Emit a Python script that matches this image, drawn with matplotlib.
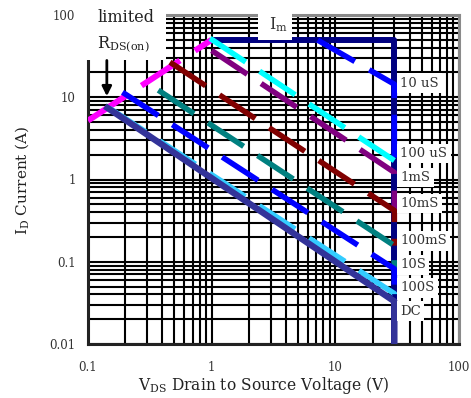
import matplotlib
matplotlib.use("Agg")
import matplotlib.pyplot as plt
from matplotlib.ticker import LogLocator, NullFormatter
from matplotlib.patches import Rectangle

plt.rcParams['font.family'] = ['DejaVu Serif']
plt.rcParams['mathtext.fontset'] = 'dejavuserif'

# ---- data ----
x_ticks = [0.1, 1, 10, 100]
x_tick_labels = ['0.1', '1', '10', '100']
y_ticks = [0.01, 0.1, 1, 10, 100]
y_tick_labels = ['0.01', '0.1', '1', '10', '100']

rds_v = [0.1, 1.0]          # R_DS(on) limit line
rds_i = [5.2, 50.0]
i_max = 50.0                 # Im (pulsed current limit)
v_max = 30.0                 # V_DS limit

durations = ['10 uS', '100 uS', '1mS', '10mS', '100mS', '10S', '100S', 'DC']
v_start = [7.2, 0.97, 1.0, 0.46, 0.37, 0.19, 0.15, 0.137]
i_start = [49.5, 52.0, 37.0, 26.7, 12.2, 11.5, 7.3, 7.8]
i_end = [14.4, 1.7, 1.22, 0.42, 0.157, 0.082, 0.041, 0.033]
label_y = [14.8, 2.07, 1.06, 0.51, 0.18, 0.092, 0.048, 0.025]
colors = ['#0000FF', '#00FFFF', '#800080', '#800000', '#008080',
          '#0000FF', '#33CCFF', '#333399']
y_min = 0.01

# ---- figure ----
fig = plt.figure(figsize=(4.71, 3.98), dpi=100)
W, H = 471, 398
ax = fig.add_axes([88 / W, 1 - 344 / H, 371 / W, 329 / H])
ax.set_xscale('log')
ax.set_yscale('log')
ax.set_xlim(0.1, 100)
ax.set_ylim(0.01, 100)
ax.set_xticks(x_ticks)
ax.set_xticklabels(x_tick_labels)
ax.set_yticks(y_ticks)
ax.set_yticklabels(y_tick_labels)
for a in (ax.xaxis, ax.yaxis):
    a.set_minor_locator(LogLocator(base=10, subs=range(2, 10)))
    a.set_minor_formatter(NullFormatter())
ax.tick_params(which='both', length=0)
ax.tick_params(axis='x', pad=12, labelsize=8.5, labelcolor='#333333')
ax.tick_params(axis='y', pad=9, labelsize=8.5, labelcolor='#333333')
ax.grid(which='both', color='black', lw=1.5)
ax.set_axisbelow(True)
for s in ('top', 'right'):
    ax.spines[s].set_color('#8a8a8a')
    ax.spines[s].set_linewidth(2.2)
for s in ('left', 'bottom'):
    ax.spines[s].set_color('#222222')
    ax.spines[s].set_linewidth(2.2)

dash = (7.7, 3.0)

# Im limit (horizontal) plus V_DS limit (vertical)
ax.plot([rds_v[-1], v_max, v_max], [i_max, i_max, y_min], color='#000080',
        lw=4.3, solid_capstyle='butt', zorder=3)

# R_DS(on) limit
ax.plot(rds_v, rds_i, color='#FF00FF', lw=4.3, dashes=dash,
        dash_capstyle='butt', zorder=4)

# SOA curves
n = len(durations)
for k in range(n):
    if k < n - 1:
        xs = [v_start[k], v_max, v_max]
        ys = [i_start[k], i_end[k], i_end[k + 1]]
        ax.plot(xs, ys, color=colors[k], lw=4.0, dashes=dash,
                dash_capstyle='butt', zorder=4 + k * 0.1)
    else:
        xs = [v_start[k], v_max, v_max]
        ys = [i_start[k], i_end[k], y_min]
        ax.plot(xs, ys, color=colors[k], lw=4.6, solid_capstyle='butt',
                zorder=5)

# duration labels
for lab, ly in zip(durations, label_y):
    ax.text(33.5, ly, lab, ha='left', va='center', fontsize=9.5,
            color='#333333', zorder=7,
            bbox=dict(boxstyle='square,pad=0.25', facecolor='white',
                      edgecolor='none'))

# "limited R_DS(on)" box
ax.add_patch(Rectangle((-0.012, (344 - 60) / 329), (168 - 86) / 371, 0.25,
                       transform=ax.transAxes, facecolor='white',
                       edgecolor='none', clip_on=False, zorder=6))
ax.text((97 - 88) / 371, (344 - 17) / 329, 'limited', transform=ax.transAxes,
        ha='left', va='center', fontsize=11.5, color='#222222', zorder=7)
ax.text((97 - 88) / 371, (344 - 45) / 329, r'R$_\mathrm{DS(on)}$',
        transform=ax.transAxes, ha='left', va='center', fontsize=11.5,
        color='#222222', zorder=7)
ax.annotate('', xy=(0.142, 10.3), xytext=(0.142, 28),
            arrowprops=dict(arrowstyle='-|>', lw=2.0, color='black',
                            mutation_scale=14, shrinkA=0, shrinkB=0),
            zorder=7)

# "Im" box
ax.add_patch(Rectangle(((258 - 88) / 371, (344 - 40) / 329), 34 / 371, 0.12,
                       transform=ax.transAxes, facecolor='white',
                       edgecolor='none', clip_on=False, zorder=6))
ax.text((278 - 88) / 371, (344 - 25) / 329, r'I$_\mathrm{m}$',
        transform=ax.transAxes, ha='center', va='center', fontsize=11.5,
        color='#333333', zorder=7)

# axis labels
fig.text(264 / W, 1 - 386 / H, r'V$_\mathrm{DS}$ Drain to Source Voltage (V)',
         ha='center', va='center', fontsize=11.2, color='#222222')
fig.text(22 / W, 1 - 180 / H, r'I$_\mathrm{D}$ Current (A)', rotation=90,
         ha='center', va='center', fontsize=11, color='#222222')

fig.savefig('out.png', dpi=100)
